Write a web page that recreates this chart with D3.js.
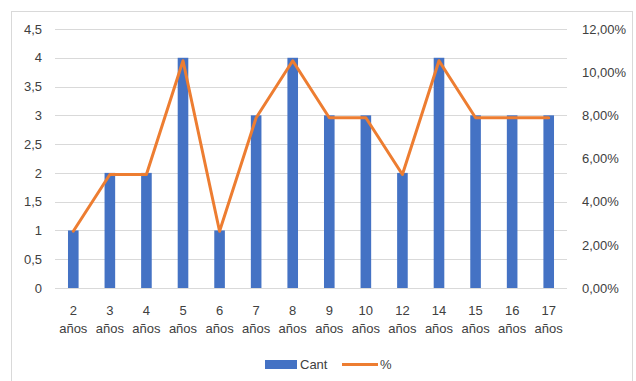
<!DOCTYPE html>
<html>
<head>
<meta charset="utf-8">
<script src="https://cdn.jsdelivr.net/npm/d3@7"></script>
<style>
  html, body { margin: 0; padding: 0; background: #fff; }
  svg { display: block; font-family: "Liberation Sans", Arial, sans-serif; }
</style>
</head>
<body>
<svg id="chart" width="636" height="381"></svg>
<script>
// Category labels (age in years)
const ages = ["2", "3", "4", "5", "6", "7", "8", "9", "10", "12", "14", "15", "16", "17"];
// Count per age
const cant = [1, 2, 2, 4, 1, 3, 4, 3, 3, 2, 4, 3, 3, 3];
// Share of the total, in percent
const pct = [2.63, 5.26, 5.26, 10.53, 2.63, 7.89, 10.53, 7.89, 7.89, 5.26, 10.53, 7.89, 7.89, 7.89];
// Axis ticks
const leftTicks = [0, 0.5, 1, 1.5, 2, 2.5, 3, 3.5, 4, 4.5];
const rightTicks = [0, 2, 4, 6, 8, 10, 12];

const svg = d3.select("#chart");
const textColor = "#404040";

// outer frame
svg.append("rect")
  .attr("x", 11.5).attr("y", 11.5)
  .attr("width", 621).attr("height", 380)
  .attr("fill", "#fff").attr("stroke", "#d9d9d9").attr("stroke-width", 1);

const plot = { left: 55, right: 567, top: 29, bottom: 288 };

const x = d3.scaleBand()
  .domain(ages)
  .range([plot.left, plot.right])
  .paddingInner(0.71).paddingOuter(0.355);

const yL = d3.scaleLinear().domain([0, 4.5]).range([plot.bottom, plot.top]);
const yR = d3.scaleLinear().domain([0, 12]).range([plot.bottom, plot.top]);

// gridlines
svg.append("g")
  .selectAll("line")
  .data(leftTicks)
  .join("line")
  .attr("x1", plot.left).attr("x2", plot.right)
  .attr("y1", d => Math.round(yL(d)) + 0.5)
  .attr("y2", d => Math.round(yL(d)) + 0.5)
  .attr("stroke", "#d9d9d9").attr("stroke-width", 1);

// left axis
const fmtL = d => String(d).replace(".", ",");
const axL = svg.append("g")
  .attr("transform", `translate(${plot.left - 13},0)`)
  .call(d3.axisLeft(yL).tickValues(leftTicks).tickFormat(fmtL).tickSize(0).tickPadding(0));
axL.select(".domain").remove();
axL.selectAll("text").attr("fill", textColor).attr("font-size", 13)
  .attr("font-family", "Liberation Sans, Arial, sans-serif");

// right axis
const fmtR = d => d3.format(".2f")(d).replace(".", ",") + "%";
const axR = svg.append("g")
  .attr("transform", `translate(${plot.right + 15},0)`)
  .call(d3.axisRight(yR).tickValues(rightTicks).tickFormat(fmtR).tickSize(0).tickPadding(0));
axR.select(".domain").remove();
axR.selectAll("text").attr("fill", textColor).attr("font-size", 13)
  .attr("font-family", "Liberation Sans, Arial, sans-serif");

// bars
svg.append("g")
  .selectAll("rect")
  .data(ages.map((a, i) => ({ a, v: cant[i] })))
  .join("rect")
  .attr("x", d => x(d.a))
  .attr("width", x.bandwidth())
  .attr("y", d => yL(d.v))
  .attr("height", d => yL(0) - yL(d.v))
  .attr("fill", "#4472C4");

// percent line
const line = d3.line()
  .x(d => x(d.a) + x.bandwidth() / 2)
  .y(d => yR(d.p));
svg.append("path")
  .datum(ages.map((a, i) => ({ a, p: pct[i] })))
  .attr("d", line)
  .attr("fill", "none")
  .attr("stroke", "#ED7D31")
  .attr("stroke-width", 3)
  .attr("stroke-linejoin", "round")
  .attr("stroke-linecap", "round");

// category labels, two lines each
const cat = svg.append("g");
ages.forEach(a => {
  const cx = x(a) + x.bandwidth() / 2;
  const t = cat.append("text")
    .attr("text-anchor", "middle")
    .attr("fill", textColor)
    .attr("font-size", 13);
  t.append("tspan").attr("x", cx).attr("y", 315).text(a);
  t.append("tspan").attr("x", cx).attr("y", 333).text("años");
});

// legend
const lg = svg.append("g");
lg.append("rect").attr("x", 265).attr("y", 360).attr("width", 32).attr("height", 9).attr("fill", "#4472C4");
lg.append("text").attr("x", 300).attr("y", 369).attr("fill", textColor).attr("font-size", 13).text("Cant");
lg.append("line").attr("x1", 342).attr("x2", 378).attr("y1", 364.5).attr("y2", 364.5)
  .attr("stroke", "#ED7D31").attr("stroke-width", 3);
lg.append("text").attr("x", 380).attr("y", 369).attr("fill", textColor).attr("font-size", 13).text("%");
</script>
</body>
</html>
